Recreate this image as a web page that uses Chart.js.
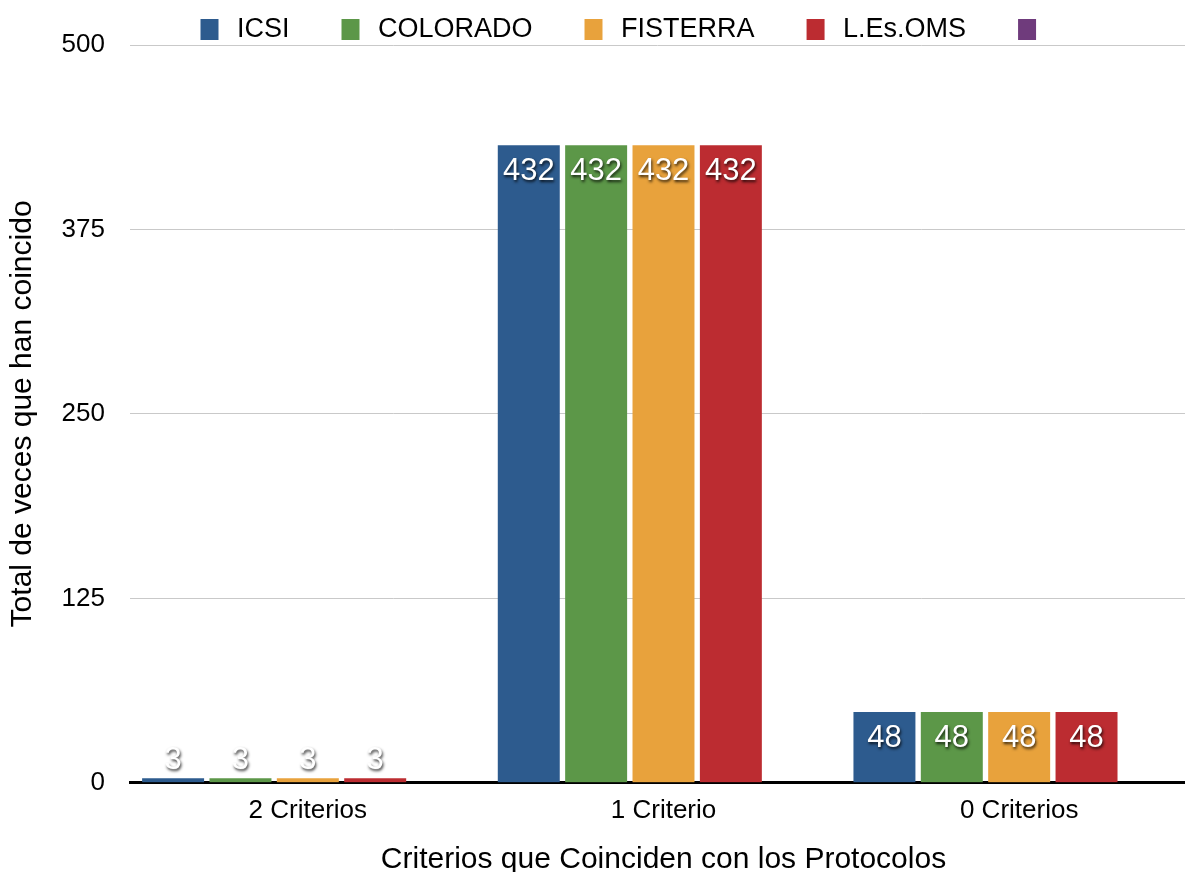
<!DOCTYPE html>
<html>
<head>
<meta charset="utf-8">
<script src="https://cdn.jsdelivr.net/npm/chart.js@4/dist/chart.umd.min.js"></script>
<style>
  html, body { margin: 0; padding: 0; background: #ffffff; }
  #wrap { width: 1185px; height: 872px; position: relative; }
</style>
</head>
<body>
<div id="wrap"><canvas id="c"></canvas></div>
<script>
const categories = ["2 Criterios", "1 Criterio", "0 Criterios"];
const seriesNames = ["ICSI", "COLORADO", "FISTERRA", "L.Es.OMS", ""];
const icsi = [3, 432, 48];
const colorado = [3, 432, 48];
const fisterra = [3, 432, 48];
const lesoms = [3, 432, 48];
const unnamed = [null, null, null];
const yTicks = [0, 125, 250, 375, 500];
const colors = ["#2D5B8E", "#5C9748", "#E8A23C", "#BC2C31", "#6F3B7C"];

const FONT = "'Liberation Sans', Arial, Helvetica, sans-serif";
const seriesData = [icsi, colorado, fisterra, lesoms, unnamed];

// legend swatch images: blank lead-in + colored box + small gap
const SW_LEAD = 44, SW_BOX = 18, SW_GAP = 5, SW_H = 21;
function swatch(color) {
  const cv = document.createElement('canvas');
  cv.width = SW_LEAD + SW_BOX + SW_GAP;
  cv.height = SW_H;
  const g = cv.getContext('2d');
  g.fillStyle = color;
  g.fillRect(SW_LEAD, 0, SW_BOX, SW_H);
  return cv;
}

const datasets = seriesNames.map((name, i) => ({
  label: name,
  data: seriesData[i],
  backgroundColor: colors[i],
  borderWidth: 0,
  categoryPercentage: 0.947,
  barPercentage: 0.92
}));

// the category axis of the original runs slightly past the right edge
const layoutTweak = {
  id: 'layoutTweak',
  afterLayout(chart) {
    const x = chart.scales.x;
    x.right = chart.chartArea.right + 12;
    x.width = x.right - x.left;
    x.configure();
    if (chart.legend) { chart.legend.left += 13; chart.legend.right += 13; }
  }
};

const valueLabels = {
  id: 'valueLabels',
  afterDatasetsDraw(chart) {
    const ctx = chart.ctx;
    ctx.save();
    ctx.font = "31px " + FONT;
    ctx.textAlign = 'center';
    ctx.textBaseline = 'middle';
    ctx.fillStyle = '#ffffff';
    ctx.shadowColor = 'rgba(0,0,0,0.8)';
    ctx.shadowOffsetX = 1;
    ctx.shadowOffsetY = 2;
    ctx.shadowBlur = 3;
    chart.data.datasets.forEach((ds, di) => {
      const meta = chart.getDatasetMeta(di);
      meta.data.forEach((bar, j) => {
        const v = ds.data[j];
        if (v === null || v === undefined) return;
        const h = bar.base - bar.y;
        const cy = h >= 50 ? bar.y + 26 : bar.y - 18;
        ctx.fillText(String(v), bar.x, cy);
      });
    });
    ctx.restore();
  }
};

new Chart(document.getElementById('c'), {
  type: 'bar',
  data: { labels: categories, datasets },
  plugins: [layoutTweak, valueLabels],
  options: {
    responsive: true,
    maintainAspectRatio: false,
    animation: false,
    layout: { padding: { top: 8, left: 0, right: 0, bottom: 0 } },
    plugins: {
      tooltip: { enabled: false },
      legend: {
        position: 'top',
        maxHeight: 37,
        labels: {
          usePointStyle: true,
          pointStyleWidth: SW_LEAD + SW_BOX + SW_GAP,
          padding: 8,
          color: '#000000',
          font: { family: FONT, size: 27 },
          generateLabels(chart) {
            return chart.data.datasets.map((ds, i) => ({
              text: ds.label,
              fillStyle: colors[i],
              strokeStyle: colors[i],
              lineWidth: 0,
              hidden: false,
              datasetIndex: i,
              pointStyle: swatch(colors[i]),
              fontColor: '#000000'
            }));
          }
        }
      }
    },
    scales: {
      x: {
        grid: { display: false, drawTicks: false },
        border: { display: true, color: '#000000', width: 3 },
        ticks: { color: '#000000', font: { family: FONT, size: 26 }, padding: 12 },
        title: {
          display: true,
          text: 'Criterios que Coinciden con los Protocolos',
          color: '#000000',
          font: { family: FONT, size: 30 },
          padding: { top: 3.5, bottom: -5.5 }
        }
      },
      y: {
        min: 0,
        max: 500,
        afterFit(scale) { scale.width = 130; },
        afterBuildTicks(scale) { scale.ticks = yTicks.map(v => ({ value: v })); },
        grid: { color: '#c9c9c9', lineWidth: 1, drawTicks: false },
        border: { display: false },
        ticks: { color: '#000000', font: { family: FONT, size: 26 }, padding: 25 },
        title: {
          display: true,
          text: 'Total de veces que han coincido',
          color: '#000000',
          font: { family: FONT, size: 30 },
          padding: { top: 5, bottom: 0 }
        }
      }
    }
  }
});
</script>
</body>
</html>
